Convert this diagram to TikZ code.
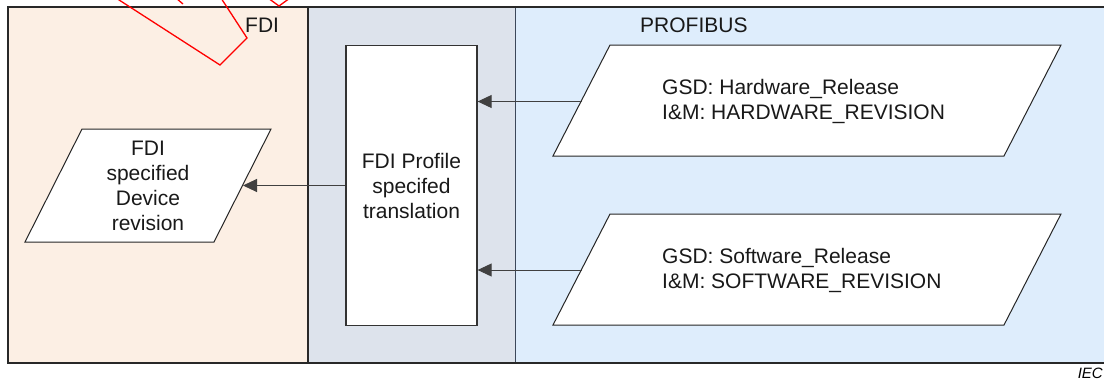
\documentclass[tikz,border=0pt]{standalone}
\usepackage{fontspec}
\setmainfont{Liberation Sans}
\usetikzlibrary{arrows.meta}
\definecolor{fdibg}{RGB}{252,239,228}
\definecolor{midbg}{RGB}{221,227,236}
\definecolor{pbbg}{RGB}{222,237,252}
\definecolor{framec}{RGB}{40,40,40}
\definecolor{sepc}{RGB}{60,72,90}
\tikzset{
  frameline/.style={draw=framec, line width=1.3pt},
  sepline/.style={draw=sepc, line width=0.8pt},
  shapebox/.style={draw=black!85, line width=1pt, fill=white},
  txt/.style={font=\fontsize{21}{25}\selectfont, text=black!90, inner sep=0pt},
  conn/.style={draw=black!75, line width=1pt, -{Triangle[length=14pt,width=13pt]}},
  redmark/.style={draw=red, line width=1.3pt, line join=miter}
}
\begin{document}
\begin{tikzpicture}[x=1pt,y=-1pt]
\useasboundingbox (0,0) rectangle (1104,381);
\clip (0,0) rectangle (1104,381);
% panels
\fill[fdibg] (8,7) rectangle (308,363);
\fill[midbg] (308,7) rectangle (515,363);
\fill[pbbg] (515,7) rectangle (1110,363);
\draw[sepline] (515,7) -- (515,363);
\draw[frameline] (308,7) -- (308,363);
\draw[frameline] (1112,7) -- (8,7) -- (8,363) -- (1112,363);
% red marks
\draw[redmark] (116,-2) -- (220,65) -- (247,38) -- (221,-2);
\draw[redmark] (176,-2) -- (183,4);
\draw[redmark] (268,-2) -- (279,6) -- (290,-2);
% panel labels
\node[txt, anchor=base west] (lfdi) at (245,32) {FDI};
\node[txt, anchor=base west] (lpb) at (640,32) {PROFIBUS};
% middle box
\node[txt, shapebox, draw=black!80, line width=1.3pt, minimum width=131pt, minimum height=280pt, align=center] (trans) at (411.5,185.5) {FDI Profile\\specifed\\translation};
% left parallelogram
\draw[shapebox] (82,129) -- (271,129) -- (214,242) -- (25,242) -- cycle;
\node[txt, align=center] (dev) at (148,185.5) {FDI\\specified\\Device\\revision};
\coordinate (devR) at (243,185.5);
% top right parallelogram
\draw[shapebox] (610,45) -- (1061,45) -- (1004,156) -- (553,156) -- cycle;
\node[txt, align=left, anchor=west] (hw) at (662,101.5) {GSD: Hardware\_Release\\I\&M: HARDWARE\_REVISION};
\coordinate (hwL) at (582,101.5);
% bottom right parallelogram
\draw[shapebox] (610,214) -- (1061,214) -- (1004,325) -- (553,325) -- cycle;
\node[txt, align=left, anchor=west] (sw) at (662,270) {GSD: Software\_Release\\I\&M: SOFTWARE\_REVISION};
\coordinate (swL) at (582,270);
% connectors
\draw[conn] (trans.west |- devR) -- (devR);
\draw[conn] (hwL) -- (trans.east |- hwL);
\draw[conn] (swL) -- (trans.east |- swL);
% IEC
\node[inner sep=0pt, anchor=base east, font=\fontsize{15}{17}\selectfont\itshape] (iec) at (1103,378.5) {IEC};
\end{tikzpicture}
\end{document}
